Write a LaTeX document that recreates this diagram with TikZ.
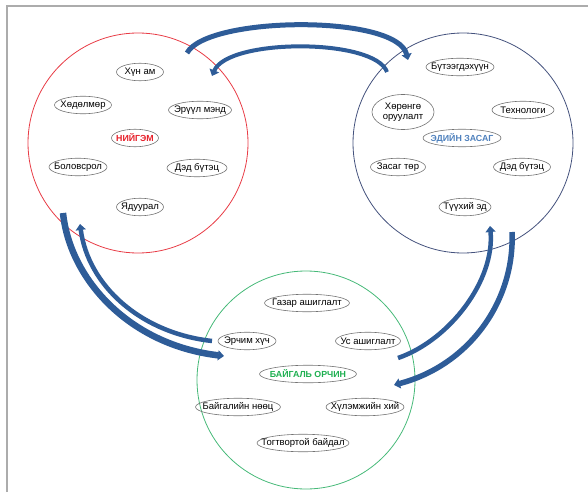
\documentclass[tikz,border=0pt]{standalone}
\usepackage{fontspec}
\setmainfont{Liberation Sans}
\usetikzlibrary{shapes.geometric,arrows.meta}
\definecolor{arrowblue}{RGB}{46,92,152}
\definecolor{socred}{RGB}{232,60,70}
\definecolor{ecoline}{RGB}{68,82,125}
\definecolor{envline}{RGB}{70,185,120}
\definecolor{soctext}{RGB}{230,30,40}
\definecolor{ecotext}{RGB}{79,129,189}
\definecolor{envtext}{RGB}{30,175,80}
\begin{document}
\begin{tikzpicture}[x=1pt,y=-1pt,
  item/.style={draw=black!55, line width=0.6pt, ellipse, inner xsep=-14pt, inner ysep=-1pt,
    minimum height=17.5pt, font=\fontsize{9.5}{10.5}\selectfont, align=center},
  hub/.style={item, font=\fontsize{8.8}{10}\selectfont\bfseries},
  ring/.style={circle, line width=0.8pt, minimum size=220pt, inner sep=0pt},
  flow/.style={draw=arrowblue, line cap=butt,
    -{Triangle[width=10pt,length=6pt,fill=arrowblue]}}
]
\useasboundingbox (0,0) rectangle (588,492);
\draw[gray!65, line width=1.3pt] (7,492) -- (7,6) -- (588,6);

% circles
\node[ring, draw=socred] (soc) at (138,143) {};
\node[ring, draw=ecoline] (eco) at (463,143) {};
\node[ring, draw=envline, minimum size=218pt] (env) at (306,380) {};

% society
\node[item, minimum width=47pt] (s1) at (140,72) {Хүн ам};
\node[item, minimum width=57pt] (s2) at (83,105) {Хөдөлмөр};
\node[item, minimum width=63pt] (s3) at (200,110) {Эрүүл мэнд};
\node[hub, text=soctext, minimum width=47pt] (sh) at (135,138) {НИЙГЭМ};
\node[item, minimum width=58pt] (s4) at (78,167) {Боловсрол};
\node[item, minimum width=60pt] (s5) at (197,168) {Дэд бүтэц};
\node[item, minimum width=47pt] (s6) at (140,207) {Ядуурал};

% economy
\node[item, minimum width=68pt] (e1) at (460,67) {Бүтээгдэхүүн};
\node[item, minimum width=62pt, minimum height=35pt] (e2) at (403,112) {Хөрөнгө\\оруулалт};
\node[item, minimum width=62pt] (e3) at (523,110) {Технологи};
\node[hub, text=ecotext, minimum width=78pt] (eh) at (462,138) {ЭДИЙН ЗАСАГ};
\node[item, minimum width=55pt] (e4) at (398,167) {Засаг төр};
\node[item, minimum width=57pt] (e5) at (522,167) {Дэд бүтэц};
\node[item, minimum width=52pt] (e6) at (465,207) {Түүхий эд};

% environment
\node[item, minimum width=85pt] (n1) at (307,303) {Газар ашиглалт};
\node[item, minimum width=58pt] (n2) at (247,341) {Эрчим хүч};
\node[item, minimum width=65pt] (n3) at (368,341) {Ус ашиглалт};
\node[hub, text=envtext, minimum width=97pt] (nh) at (308,374) {БАЙГАЛЬ ОРЧИН};
\node[item, minimum width=85pt] (n4) at (238,407) {Байгалийн нөөц};
\node[item, minimum width=78pt] (n5) at (365,407) {Хүлэмжийн хий};
\node[item, minimum width=92pt] (n6) at (303,443) {Тогтвортой байдал};

% arrow end points
\coordinate (ta1) at (187,53);  \coordinate (ta2) at (408,60);
\coordinate (tb1) at (387,72);  \coordinate (tb2) at (212,76);
\coordinate (la1) at (63,213);  \coordinate (la2) at (224,356);
\coordinate (lb1) at (212,341); \coordinate (lb2) at (80,224);
\coordinate (ra1) at (398,358); \coordinate (ra2) at (490,226);
\coordinate (rb1) at (512,232); \coordinate (rb2) at (394,385);

% arrows
\draw[flow, line width=5pt] (ta1) .. controls (207,16) and (397,14) .. (ta2);
\draw[flow, line width=4pt] (tb1) .. controls (375,38) and (228,38) .. (tb2);
\draw[flow, line width=6.5pt] (la1) .. controls (70,280) and (130,345) .. (la2);
\draw[flow, line width=4.5pt] (lb1) .. controls (140,333) and (88,285) .. (lb2);
\draw[flow, line width=4.5pt] (ra1) .. controls (450,340) and (495,280) .. (ra2);
\draw[flow, line width=5.5pt] (rb1) .. controls (515,300) and (470,365) .. (rb2);
\end{tikzpicture}
\end{document}
